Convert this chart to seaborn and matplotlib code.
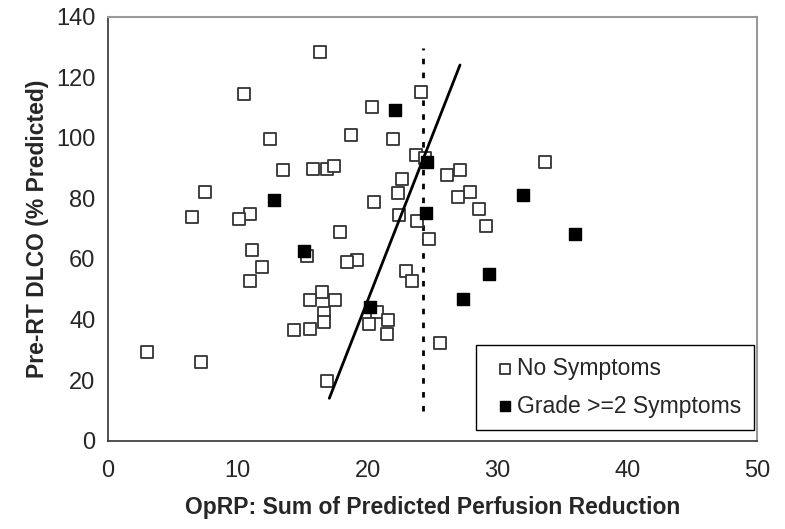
import numpy as np
import pandas as pd
import matplotlib
matplotlib.use("Agg")
import matplotlib.pyplot as plt
import seaborn as sns

# ---- data ----
none_x = [16.33, 10.48, 24.14, 20.31, 18.72, 12.48, 21.96, 23.70, 24.40, 33.64,
          13.48, 15.77, 16.89, 17.39, 27.14, 26.09, 22.62, 7.47, 22.37, 27.86,
          26.94, 20.47, 28.56, 10.91, 22.39, 6.47, 10.12, 23.81, 29.10, 17.87,
          24.76, 11.12, 15.31, 19.21, 18.39, 11.84, 22.93, 10.97, 23.42, 16.46,
          15.59, 17.51, 20.75, 16.62, 21.60, 16.67, 20.11, 15.55, 14.33, 21.47,
          25.60, 2.98, 7.14, 16.85]
none_y = [128.2, 114.3, 115.0, 110.2, 101.0, 99.7, 99.6, 94.2, 93.4, 91.9,
          89.3, 89.6, 89.6, 90.8, 89.4, 87.7, 86.5, 82.0, 81.8, 82.0,
          80.5, 78.7, 76.6, 74.7, 74.6, 73.7, 73.3, 72.4, 70.8, 68.8,
          66.6, 62.9, 61.1, 59.7, 59.0, 57.4, 55.9, 52.6, 52.6, 49.2,
          46.4, 46.4, 42.5, 42.1, 39.7, 39.1, 38.6, 37.0, 36.6, 35.2,
          32.2, 29.4, 26.0, 19.6]
sym_x = [12.79, 22.09, 24.58, 31.95, 24.52, 29.38, 27.32, 15.10, 20.16, 35.98]
sym_y = [79.4, 109.1, 92.1, 81.1, 75.2, 55.0, 46.9, 62.7, 44.2, 68.1]

fit_x = [17.05, 27.12]
fit_y = [14.0, 124.0]
cut_x = 24.27
cut_y = [9.9, 129.7]

labels = ["No Symptoms", "Grade >=2 Symptoms"]
xticks = [0, 10, 20, 30, 40, 50]
yticks = [0, 20, 40, 60, 80, 100, 120, 140]

df = pd.DataFrame({
    "x": none_x + sym_x,
    "y": none_y + sym_y,
    "grp": [labels[0]] * len(none_x) + [labels[1]] * len(sym_x),
})

sns.set_style("white")
plt.rcParams["font.family"] = ["Liberation Sans", "DejaVu Sans"]

fig = plt.figure(figsize=(7.85, 5.29), dpi=100)
ax = fig.add_axes([0.1376, 0.1669, 0.8267, 0.8019])

sns.scatterplot(data=df[df.grp == labels[0]], x="x", y="y", marker="s", s=64,
                facecolor="white", edgecolor="#333333", linewidth=1.3, ax=ax,
                label=labels[0], zorder=3)
sns.scatterplot(data=df[df.grp == labels[1]], x="x", y="y", marker="s", s=72,
                color="black", edgecolor="black", linewidth=1.0, ax=ax,
                label=labels[1], zorder=4)

ax.plot(fit_x, fit_y, color="black", lw=2.0, zorder=5)
ax.plot([cut_x, cut_x], cut_y, color="black", lw=2.0, ls=(0, (2, 3)), zorder=2)

ax.set_xlim(0, 50)
ax.set_ylim(0, 140)
ax.set_xticks(xticks)
ax.set_yticks(yticks)
ax.tick_params(axis="both", direction="out", length=6, width=1, color="#333333",
               labelsize=17)
ax.tick_params(axis="x", pad=8)
ax.tick_params(axis="y", pad=3)

for side in ["left", "bottom"]:
    ax.spines[side].set_color("#333333")
    ax.spines[side].set_linewidth(1.2)
for side in ["right", "top"]:
    ax.spines[side].set_color("#999999")
    ax.spines[side].set_linewidth(1.5)

ax.set_xlabel("OpRP: Sum of Predicted Perfusion Reduction", fontsize=16.5,
              fontweight="bold", labelpad=10)
ax.set_ylabel("Pre-RT DLCO (% Predicted)", fontsize=16.5, fontweight="bold",
              labelpad=5)

leg = ax.legend(loc="lower right", bbox_to_anchor=(0.9955, 0.025), fontsize=16.5,
                frameon=True, fancybox=False, edgecolor="black", framealpha=1,
                markerscale=0.85, handletextpad=-0.2, labelspacing=0.62,
                borderpad=0.55, handlelength=1.45, borderaxespad=0)
leg.get_frame().set_linewidth(1.0)

fig.savefig("out.png", dpi=100)
